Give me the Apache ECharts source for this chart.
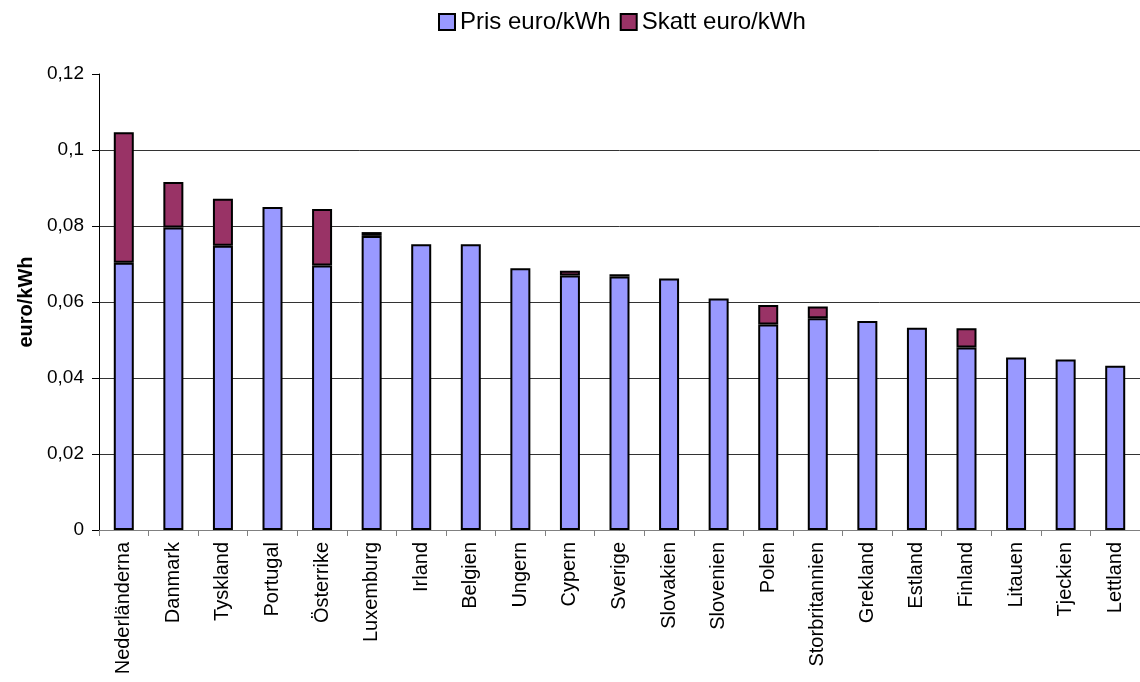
<!DOCTYPE html>
<html>
<head>
<meta charset="utf-8">
<script src="https://cdn.jsdelivr.net/npm/echarts@6/dist/echarts.min.js"></script>
<style>
  html, body { margin: 0; padding: 0; background: #fff; }
  #chart { width: 1140px; height: 682px; }
</style>
</head>
<body>
<div id="chart"></div>
<script>
// Elpris per land, uppdelat i pris och skatt (euro/kWh)
const countries = ['Nederländerna', 'Danmark', 'Tyskland', 'Portugal', 'Österrike', 'Luxemburg',
  'Irland', 'Belgien', 'Ungern', 'Cypern', 'Sverige', 'Slovakien', 'Slovenien', 'Polen',
  'Storbritannien', 'Grekland', 'Estland', 'Finland', 'Litauen', 'Tjeckien', 'Lettland'];
const pris = [0.0703, 0.0796, 0.0748, 0.0850, 0.0696, 0.0774, 0.0752, 0.0752, 0.0689, 0.0670,
  0.0667, 0.0662, 0.0609, 0.0541, 0.0557, 0.0550, 0.0532, 0.0480, 0.0454, 0.0449, 0.0432];
const skatt = [0.0344, 0.0120, 0.0124, 0, 0.0149, 0.0010, 0, 0, 0, 0.0012,
  0.0006, 0, 0, 0.0051, 0.0031, 0, 0, 0.0051, 0, 0, 0];
const yTicks = [0, 0.02, 0.04, 0.06, 0.08, 0.1, 0.12];

const FONT = "'Liberation Sans', Arial, sans-serif";
const fmt = v => String(Number(v.toFixed(2))).replace('.', ',');

const chart = echarts.init(document.getElementById('chart'));
chart.setOption({
  animation: false,
  backgroundColor: '#fff',
  textStyle: { fontFamily: FONT, color: '#000' },
  legend: {
    left: 433,
    top: 5,
    itemWidth: 16,
    itemHeight: 16,
    itemGap: 9,
    icon: 'rect',
    textStyle: { fontFamily: FONT, fontSize: 24, color: '#000' },
    data: ['Pris euro/kWh', 'Skatt euro/kWh']
  },
  grid: { left: 99, right: 0, top: 74, bottom: 152, containLabel: false },
  xAxis: {
    type: 'category',
    data: countries,
    boundaryGap: true,
    axisLine: { lineStyle: { color: '#808080', width: 1 } },
    axisTick: { show: true, length: 6, lineStyle: { color: '#808080' } },
    axisLabel: {
      rotate: 90,
      interval: 0,
      margin: 12,
      fontFamily: FONT,
      fontSize: 20,
      color: '#000'
    }
  },
  yAxis: {
    type: 'value',
    min: yTicks[0],
    max: yTicks[yTicks.length - 1],
    interval: 0.02,
    name: 'euro/kWh',
    nameLocation: 'middle',
    nameGap: 62,
    nameRotate: 90,
    nameTextStyle: { fontFamily: FONT, fontSize: 20, fontWeight: 'bold', color: '#000' },
    axisLine: { show: true, lineStyle: { color: '#000', width: 1 } },
    axisTick: { show: true, length: 7, lineStyle: { color: '#000' } },
    axisLabel: {
      margin: 15,
      fontFamily: FONT,
      fontSize: 19,
      color: '#000',
      formatter: fmt
    },
    splitLine: {
      show: true,
      lineStyle: {
        color: yTicks.map((t, i) => (i === yTicks.length - 1 ? 'rgba(0,0,0,0)' : '#333')),
        width: 1
      }
    }
  },
  series: [
    {
      name: 'Pris euro/kWh',
      type: 'bar',
      stack: 'total',
      barWidth: 20,
      data: pris,
      itemStyle: { color: '#9999FF', borderColor: '#000', borderWidth: 2 }
    },
    {
      name: 'Skatt euro/kWh',
      type: 'bar',
      stack: 'total',
      barWidth: 20,
      data: skatt.map(v => (v === 0 ? '-' : v)),
      itemStyle: { color: '#993366', borderColor: '#000', borderWidth: 2 }
    }
  ]
});
</script>
</body>
</html>
